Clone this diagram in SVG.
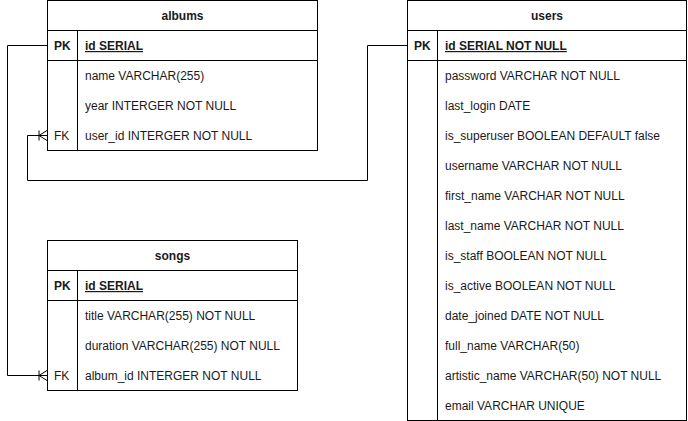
<svg xmlns="http://www.w3.org/2000/svg" width="688" height="421" viewBox="0 0 688 421">
<style>
.box{fill:#fff;stroke:#000;stroke-width:1}
.ln{stroke:#000;stroke-width:1;fill:none}
text{font-family:"Liberation Sans",Arial,sans-serif;font-size:12px;fill:#1a1a1a}
.t{font-weight:bold;text-anchor:middle}
.k{font-weight:bold}
.u{font-weight:bold;text-decoration:underline}
.conn{stroke:#000;stroke-width:1;fill:none}
</style>
<defs>
<marker id="many" viewBox="0 0 10 12" refX="10" refY="6" markerWidth="10" markerHeight="12" markerUnits="userSpaceOnUse" orient="auto">
<path d="M2,1 V11 M2,6 L10,1 M2,6 L10,11" stroke="#000" stroke-width="1" fill="none"/>
</marker>
</defs>
<rect width="688" height="421" fill="#fff"/>
<g id="connectors">
<path class="conn" d="M47.5,45.5 H7.5 V375.5 H47" marker-end="url(#many)"/>
<path class="conn" d="M407.5,45.5 H367.5 V180.5 H27.5 V135.5 H47" marker-end="url(#many)"/>
</g>
<g id="albums">
<rect class="box" x="47.5" y="0.5" width="270" height="150"/>
<path class="ln" d="M47.5,30.5 H317.5 M47.5,60.5 H317.5 M77.5,30.5 V150.5"/>
<text class="t" x="182.5" y="20">albums</text>
<text class="k" x="54" y="50">PK</text>
<text class="u" x="85" y="50">id SERIAL</text>
<text x="85" y="80">name VARCHAR(255)</text>
<text x="85" y="110">year INTERGER NOT NULL</text>
<text x="54" y="140">FK</text>
<text x="85" y="140">user_id INTERGER NOT NULL</text>
</g>
<g id="users">
<rect class="box" x="407.5" y="0.5" width="279" height="420"/>
<path class="ln" d="M407.5,30.5 H686.5 M407.5,60.5 H686.5 M437.5,30.5 V420.5"/>
<text class="t" x="547" y="20">users</text>
<text class="k" x="414" y="50">PK</text>
<text class="u" x="445" y="50">id SERIAL NOT NULL</text>
<text x="445" y="80">password VARCHAR NOT NULL</text>
<text x="445" y="110">last_login DATE</text>
<text x="445" y="140">is_superuser BOOLEAN DEFAULT false</text>
<text x="445" y="170">username VARCHAR NOT NULL</text>
<text x="445" y="200">first_name VARCHAR NOT NULL</text>
<text x="445" y="230">last_name VARCHAR NOT NULL</text>
<text x="445" y="260">is_staff BOOLEAN NOT NULL</text>
<text x="445" y="290">is_active BOOLEAN NOT NULL</text>
<text x="445" y="320">date_joined DATE NOT NULL</text>
<text x="445" y="350">full_name VARCHAR(50)</text>
<text x="445" y="380">artistic_name VARCHAR(50) NOT NULL</text>
<text x="445" y="410">email VARCHAR UNIQUE</text>
</g>
<g id="songs">
<rect class="box" x="47.5" y="240.5" width="250" height="150"/>
<path class="ln" d="M47.5,270.5 H297.5 M47.5,300.5 H297.5 M77.5,270.5 V390.5"/>
<text class="t" x="172.5" y="260">songs</text>
<text class="k" x="54" y="290">PK</text>
<text class="u" x="85" y="290">id SERIAL</text>
<text x="85" y="320">title VARCHAR(255) NOT NULL</text>
<text x="85" y="350">duration VARCHAR(255) NOT NULL</text>
<text x="54" y="380">FK</text>
<text x="85" y="380">album_id INTERGER NOT NULL</text>
</g>
</svg>
